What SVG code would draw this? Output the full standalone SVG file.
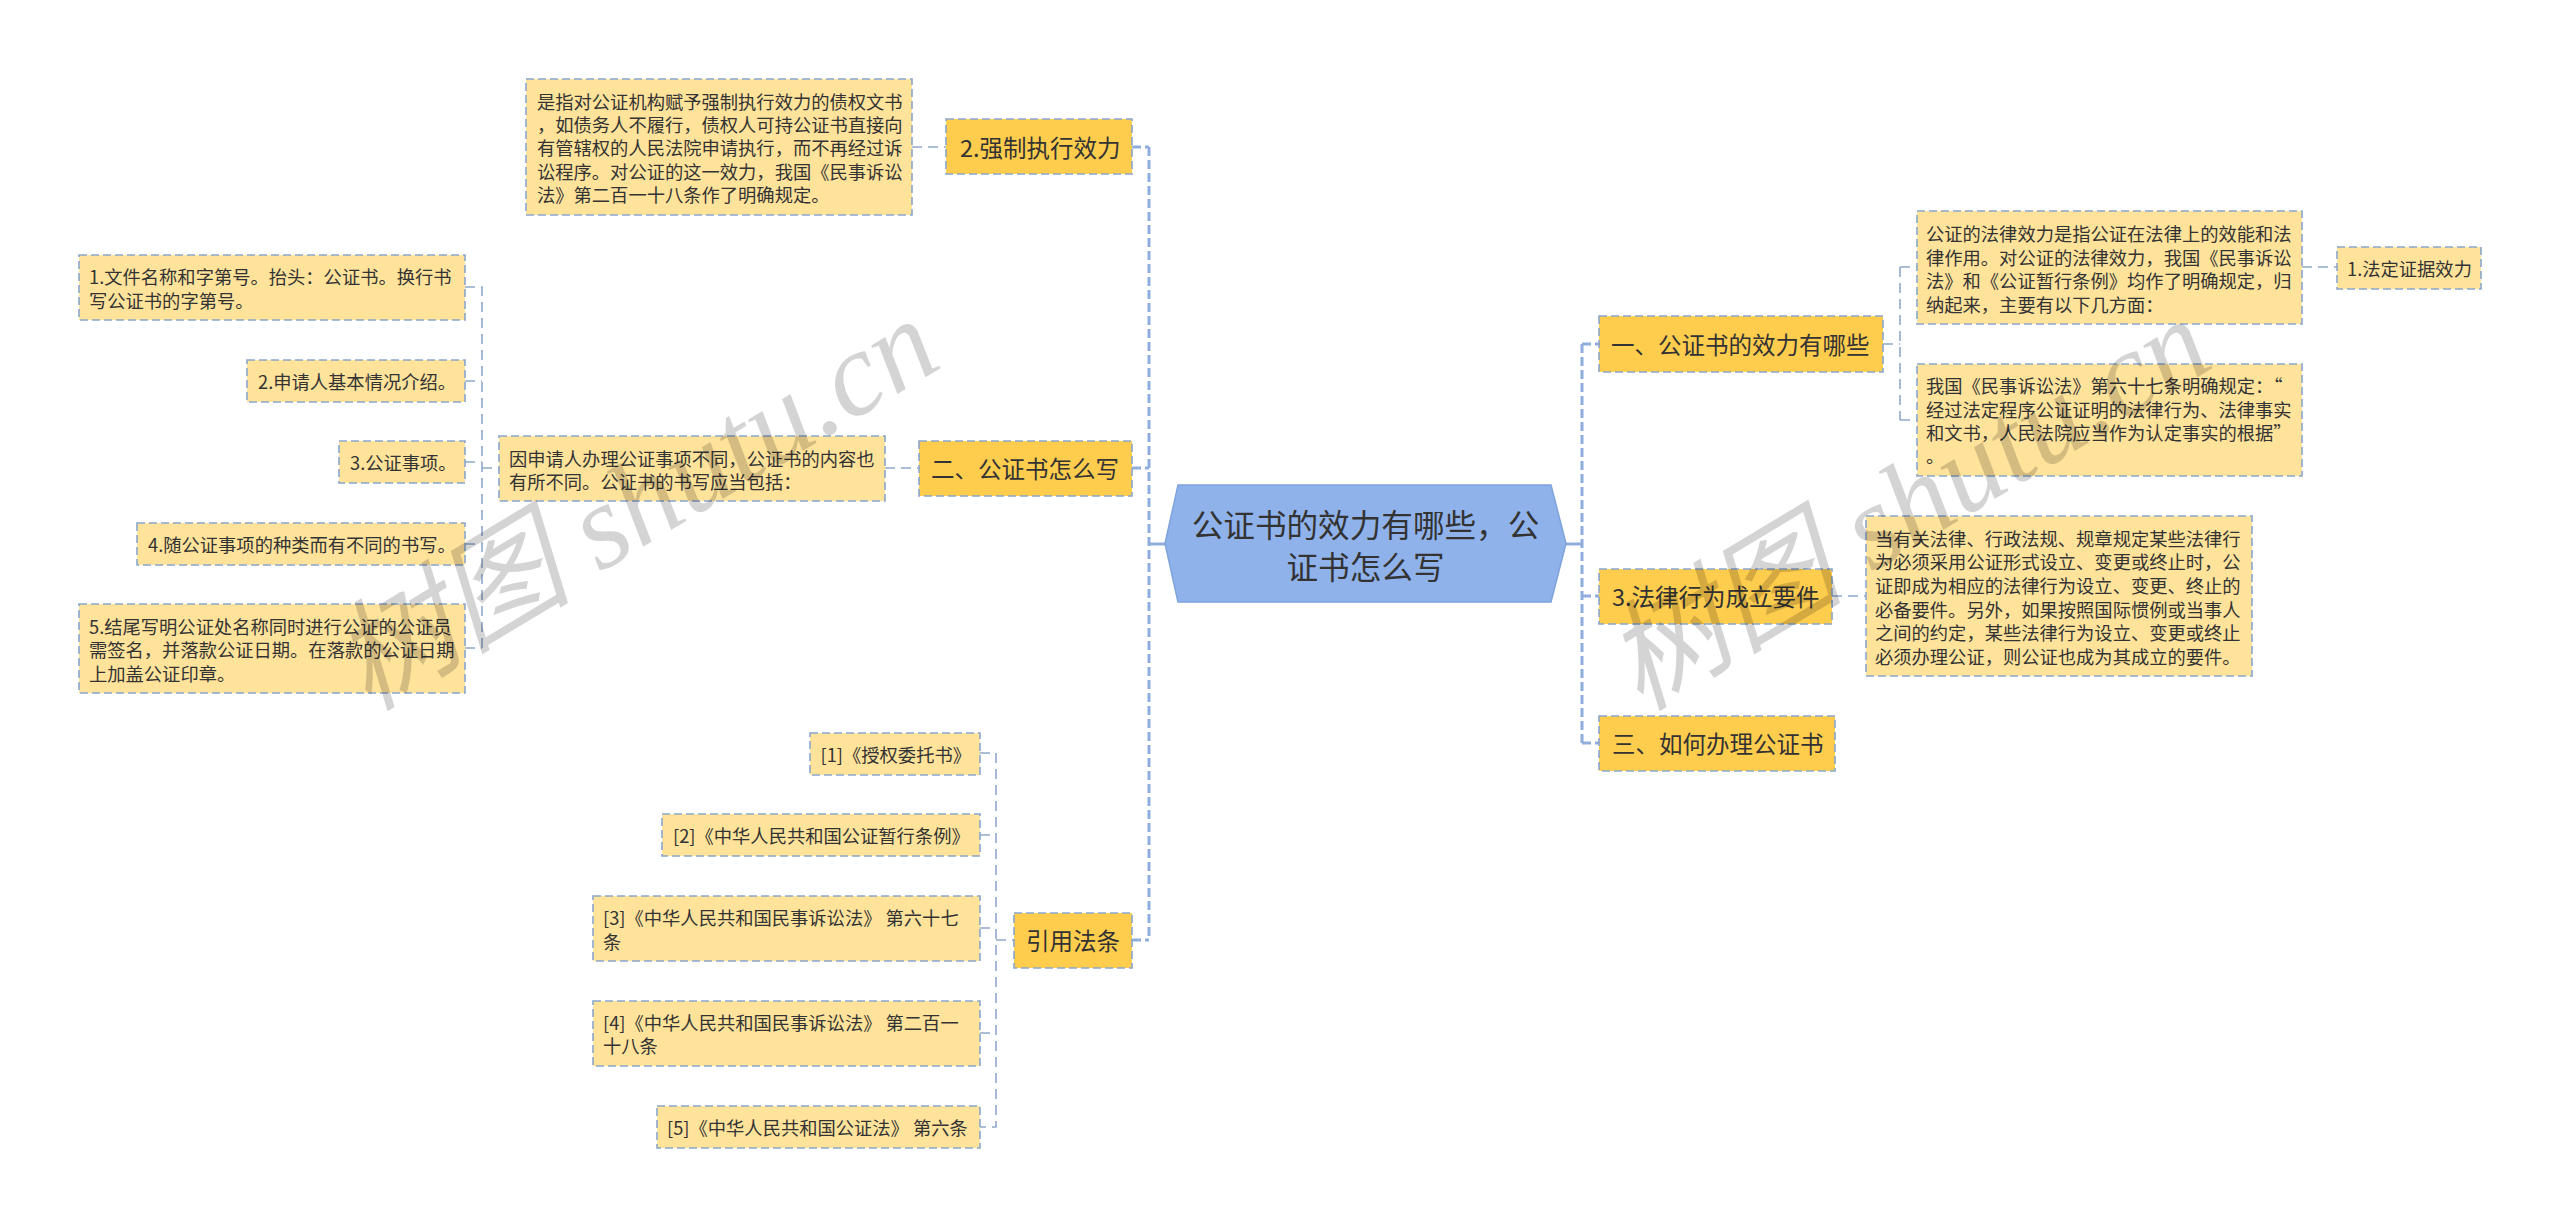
<svg xmlns="http://www.w3.org/2000/svg" width="2560" height="1227" viewBox="0 0 2560 1227">
<style>
text{font-family:"Microsoft YaHei","Noto Sans CJK SC",sans-serif;fill:#333;dominant-baseline:central}
.s{font-size:18.3px}
.t{font-size:23.5px}
.r{font-size:31.6px;text-anchor:middle}
.a{fill:#FFCD4D;stroke:#8AA6CC;stroke-width:1.600;stroke-dasharray:8 4}
.b{fill:#FFE39B;stroke:#8AA6CC;stroke-width:1.600;stroke-dasharray:8 4}
.m{fill:none;stroke:#8FAEDD;stroke-width:3;stroke-dasharray:9 4}
.c{fill:none;stroke:#8FA9CC;stroke-width:1.600;stroke-dasharray:10 6}
.w{font-family:"Liberation Serif","Noto Sans CJK SC",serif;font-style:italic;font-size:120px;fill:#000;fill-opacity:.17;dominant-baseline:auto}
</style>
<rect width="2560" height="1227" fill="#fff"/>
<g id="connectors">
<path class="m" d="M1132 147H1149M1132 468H1149M1132 940H1149M1149 147V940"/>
<path d="M1149 544H1166" fill="none" stroke="#8FAEDD" stroke-width="3"/>
<path class="m" d="M1582 344V743M1582 344H1599M1582 596H1599M1582 743H1599"/>
<path d="M1566 544H1582" fill="none" stroke="#8FAEDD" stroke-width="3"/>
<path class="c" d="M912 147H946M885 468H919"/>
<path class="c" d="M465 287H482V648M465 381H482M465 462H482M465 544H482M465 648H482M482 468H499"/>
<path class="c" d="M980 753H996V1127H980M980 835H996M980 928H996M980 1033H996M996 940H1014"/>
<path class="c" d="M1883 344H1900M1900 267V420M1900 267H1917M1900 420H1917M2302 267H2337M1832 596H1866"/>
</g>
<g id="root"><path d="M1165 543.500L1178 485H1551L1566 543.500L1551 602H1178Z" fill="#8FB2EA" stroke="#7EA3DC" stroke-width="1.500"/>
<text class="r" x="1365.500" y="523">公证书的效力有哪些，公</text><text class="r" x="1365.500" y="565">证书怎么写</text></g>

<g id="n-force"><rect class="a" x="946" y="119" width="186" height="55"/><text class="t" x="960" y="147">2.强制执行效力</text></g>
<g id="n-force-d"><rect class="b" x="526" y="79" width="386" height="136"/>
<text class="s" x="537" y="100.700">是指对公证机构赋予强制执行效力的债权文书</text>
<text class="s" x="537" y="124">，如债务人不履行，债权人可持公证书直接向</text>
<text class="s" x="537" y="147.300">有管辖权的人民法院申请执行，而不再经过诉</text>
<text class="s" x="537" y="170.700">讼程序。对公证的这一效力，我国《民事诉讼</text>
<text class="s" x="537" y="194">法》第二百一十八条作了明确规定。</text></g>

<g id="n-write"><rect class="a" x="919" y="441" width="213" height="55"/><text class="t" x="931" y="468">二、公证书怎么写</text></g>
<g id="n-write-d"><rect class="b" x="499" y="436" width="386" height="65"/>
<text class="s" x="509" y="457.500">因申请人办理公证事项不同，公证书的内容也</text>
<text class="s" x="509" y="481">有所不同。公证书的书写应当包括：</text></g>
<g id="w1"><rect class="b" x="79" y="255" width="386" height="65"/>
<text class="s" x="89" y="276">1.文件名称和字第号。抬头：公证书。换行书</text>
<text class="s" x="89" y="300">写公证书的字第号。</text></g>
<g id="w2"><rect class="b" x="247" y="360" width="218" height="42"/><text class="s" x="258" y="381">2.申请人基本情况介绍。</text></g>
<g id="w3"><rect class="b" x="339" y="441" width="126" height="42"/><text class="s" x="350" y="462">3.公证事项。</text></g>
<g id="w4"><rect class="b" x="137" y="523" width="328" height="42"/><text class="s" x="148" y="544">4.随公证事项的种类而有不同的书写。</text></g>
<g id="w5"><rect class="b" x="79" y="604" width="386" height="89"/>
<text class="s" x="89" y="625.700">5.结尾写明公证处名称同时进行公证的公证员</text>
<text class="s" x="89" y="649">需签名，并落款公证日期。在落款的公证日期</text>
<text class="s" x="89" y="673">上加盖公证印章。</text></g>

<g id="n-ref"><rect class="a" x="1014" y="913" width="118" height="55"/><text class="t" x="1026" y="940">引用法条</text></g>
<g id="r1"><rect class="b" x="810" y="733" width="170" height="42"/><text class="s" x="820.500" y="754">[1]《授权委托书》</text></g>
<g id="r2"><rect class="b" x="662" y="814" width="318" height="42"/><text class="s" x="673" y="835">[2]《中华人民共和国公证暂行条例》</text></g>
<g id="r3"><rect class="b" x="593" y="896" width="387" height="65"/><text class="s" x="603" y="916.700">[3]《中华人民共和国民事诉讼法》 第六十七</text><text class="s" x="603" y="940.700">条</text></g>
<g id="r4"><rect class="b" x="593" y="1001" width="387" height="65"/><text class="s" x="603" y="1021.700">[4]《中华人民共和国民事诉讼法》 第二百一</text><text class="s" x="603" y="1045">十八条</text></g>
<g id="r5"><rect class="b" x="657" y="1106" width="323" height="42"/><text class="s" x="667" y="1127">[5]《中华人民共和国公证法》 第六条</text></g>

<g id="n-effect"><rect class="a" x="1599" y="316" width="284" height="56"/><text class="t" x="1611" y="344">一、公证书的效力有哪些</text></g>
<g id="e1"><rect class="b" x="1917" y="211" width="385" height="113"/>
<text class="s" x="1926" y="233">公证的法律效力是指公证在法律上的效能和法</text>
<text class="s" x="1926" y="257">律作用。对公证的法律效力，我国《民事诉讼</text>
<text class="s" x="1926" y="280.300">法》和《公证暂行条例》均作了明确规定，归</text>
<text class="s" x="1926" y="304">纳起来，主要有以下几方面：</text></g>
<g id="e1a"><rect class="b" x="2337" y="247" width="144" height="42"/><text class="s" x="2347" y="268">1.法定证据效力</text></g>
<g id="e2"><rect class="b" x="1917" y="364" width="385" height="112"/>
<text class="s" x="1926" y="385">我国《民事诉讼法》第六十七条明确规定：“</text>
<text class="s" x="1926" y="408.700">经过法定程序公证证明的法律行为、法律事实</text>
<text class="s" x="1926" y="432">和文书，人民法院应当作为认定事实的根据”</text>
<text class="s" x="1926" y="455">。</text></g>

<g id="n-act"><rect class="a" x="1599" y="569" width="233" height="55"/><text class="t" x="1612" y="596">3.法律行为成立要件</text></g>
<g id="a1"><rect class="b" x="1866" y="516" width="386" height="160"/>
<text class="s" x="1875" y="537.500">当有关法律、行政法规、规章规定某些法律行</text>
<text class="s" x="1875" y="561">为必须采用公证形式设立、变更或终止时，公</text>
<text class="s" x="1875" y="585">证即成为相应的法律行为设立、变更、终止的</text>
<text class="s" x="1875" y="609">必备要件。另外，如果按照国际惯例或当事人</text>
<text class="s" x="1875" y="632.400">之间的约定，某些法律行为设立、变更或终止</text>
<text class="s" x="1875" y="656">必须办理公证，则公证也成为其成立的要件。</text></g>

<g id="n-how"><rect class="a" x="1599" y="716" width="236" height="55"/><text class="t" x="1612" y="743">三、如何办理公证书</text></g>

<g id="watermarks">
<text class="w" transform="translate(368 712) rotate(-31)">树图 shutu.cn</text>
<text class="w" transform="translate(1640 712) rotate(-31)">树图 shutu.cn</text>
</g>
</svg>
